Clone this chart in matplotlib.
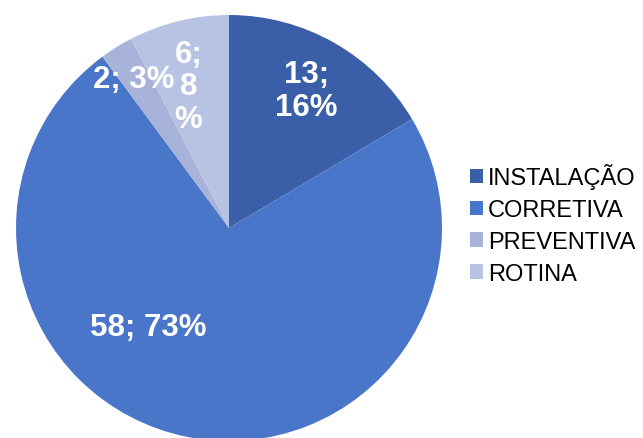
import matplotlib.pyplot as plt

plt.rcParams['font.family'] = ['Liberation Sans', 'DejaVu Sans']

categories = ['INSTALAÇÃO', 'CORRETIVA', 'PREVENTIVA', 'ROTINA']
values = [13, 58, 2, 6]
labels = ['13;\n16%', '58; 73%', '2; 3%', '6;\n8\n%']
colors = ['#3b5ea9', '#4a76c9', '#a8b3d9', '#b8c2e3']

fig = plt.figure(figsize=(6.43, 4.39), dpi=100)
# pie centre ~ (229, 229) px, radius ~213 px
ax = fig.add_axes([16 / 643, -3 / 439, 426 / 643, 426 / 439])
wedges, _ = ax.pie(values, colors=colors, startangle=90, counterclock=False,
                   radius=1, wedgeprops=dict(linewidth=0))
ax.set_xlim(-1, 1)
ax.set_ylim(-1, 1)
ax.set_aspect('equal')

# label positions (in pie radius units)
label_pos = [(0.365, 0.645), (-0.38, -0.465), (-0.445, 0.70), (-0.19, 0.665)]
for (x, y), lab in zip(label_pos, labels):
    ax.text(x, y, lab, ha='center', va='center', color='white',
            fontsize=22.5, fontweight='bold', linespacing=1.1)

fig.legend(wedges, categories, loc='center left', bbox_to_anchor=(470 / 643, 1 - 225 / 439),
           frameon=False, fontsize=17, handlelength=0.55, handleheight=0.55,
           handletextpad=0.2, labelspacing=0.42, borderaxespad=0, borderpad=0)

fig.savefig('out.png', dpi=100)
